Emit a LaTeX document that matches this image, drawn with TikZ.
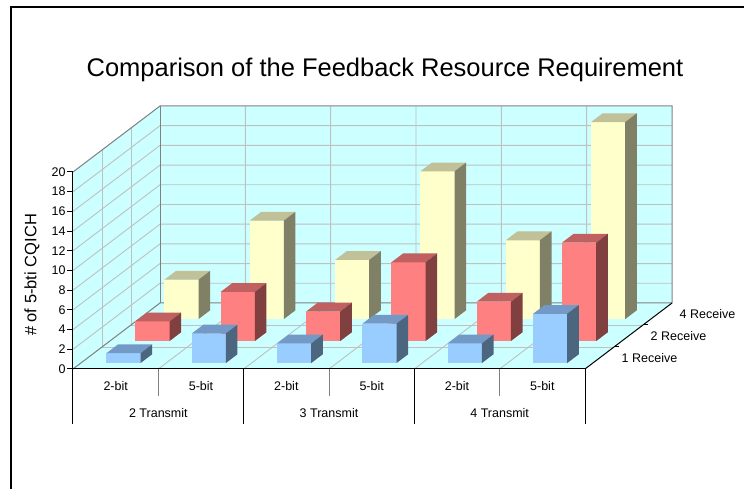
\documentclass[tikz,border=0pt]{standalone}
\usepackage{fontspec}
\setmainfont{Liberation Sans}
\usepackage{xcolor}
\usepackage{tikz}

\definecolor{wallcyan}{HTML}{CCFFFF}
\definecolor{gridgray}{HTML}{C0C0C0}
\definecolor{edgegray}{HTML}{808080}
\definecolor{bluefront}{HTML}{99CCFF}
\definecolor{bluetop}{HTML}{7399C6}
\definecolor{blueside}{HTML}{4D6680}
\definecolor{redfront}{HTML}{FF8080}
\definecolor{redtop}{HTML}{C06060}
\definecolor{redside}{HTML}{804040}
\definecolor{yellowfront}{HTML}{FFFFCC}
\definecolor{yellowtop}{HTML}{C0C099}
\definecolor{yellowside}{HTML}{808066}

% one column: category, row, value, colour
\newcommand{\cqbar}[4]{%
  \fill[#4front] (#1+0.3,0,#2+0.27) -- (#1+0.7,0,#2+0.27) -- (#1+0.7,#3,#2+0.27) -- (#1+0.3,#3,#2+0.27) -- cycle;
  \fill[#4top] (#1+0.3,#3,#2+0.27) -- (#1+0.7,#3,#2+0.27) -- (#1+0.7,#3,#2+0.67) -- (#1+0.3,#3,#2+0.67) -- cycle;
  \fill[#4side] (#1+0.7,0,#2+0.27) -- (#1+0.7,0,#2+0.67) -- (#1+0.7,#3,#2+0.67) -- (#1+0.7,#3,#2+0.27) -- cycle;
}

\begin{document}
\begin{tikzpicture}[x={(85.333pt,0pt)}, y={(0pt,9.85pt)}, z={(29pt,22pt)},
    lbl/.style={inner sep=0pt, font=\fontsize{12.5}{14}\selectfont}]
  \useasboundingbox (-73pt,-120pt) rectangle (671pt,369pt);
  \draw[line width=1.5pt] (-62pt,-120pt) -- (-62pt,362pt) -- (671pt,362pt);
  \node[anchor=base, font=\fontsize{25.5}{30}\selectfont] (title) at (312pt,292pt)
    {Comparison of the Feedback Resource Requirement};
  % walls and floor
  \fill[wallcyan] (0,0,3) -- (6,0,3) -- (6,20,3) -- (0,20,3) -- cycle;
  \fill[wallcyan] (0,0,0) -- (0,0,3) -- (0,20,3) -- (0,20,0) -- cycle;
  \fill[wallcyan] (0,0,0) -- (6,0,0) -- (6,0,3) -- (0,0,3) -- cycle;
  \foreach \v in {2,4,...,18} {
    \draw[gridgray, line width=0.9pt] (0,\v,0) -- (0,\v,3) -- (6,\v,3);
  }
  \foreach \c in {1,...,5} {
    \draw[gridgray, line width=0.9pt] (\c,0,0) -- (\c,0,3) -- (\c,20,3);
  }
  \foreach \r in {1,2} {
    \draw[gridgray, line width=0.9pt] (0,20,\r) -- (0,0,\r) -- (6,0,\r);
  }
  \draw[edgegray, line width=1pt] (0,0,0) -- (0,0,3) -- (6,0,3) -- (6,20,3) -- (0,20,3) -- (0,20,0);
  \draw[edgegray, line width=1pt] (0,0,3) -- (0,20,3);
  % columns, back row first
  \foreach \c/\v in {0/4,1/10,2/6,3/15,4/8,5/20} {
    \cqbar{\c}{2}{\v}{yellow}
  }
  \foreach \c/\v in {0/2,1/5,2/3,3/8,4/4,5/10} {
    \cqbar{\c}{1}{\v}{red}
  }
  \foreach \c/\v in {0/1,1/3,2/2,3/4,4/2,5/5} {
    \cqbar{\c}{0}{\v}{blue}
  }
  % value axis
  \draw[line width=1pt] (0,0,0) -- (0,20,0);
  \foreach \v in {0,2,...,20} {
    \draw[line width=1pt] (0,\v,0) -- ++(-6pt,0) node[lbl, anchor=east, xshift=-1pt] (val\v) {\v};
  }
  \node[rotate=90, font=\fontsize{16.5}{18}\selectfont] (ytitle) at (-41pt,94pt) {\# of 5-bti CQICH};
  % category axis
  \draw[line width=1pt] (0,0,0) -- (6,0,0);
  \foreach \c in {0,2,4,6} {
    \draw[line width=1pt] (\c,0,0) -- ++(0,-55pt);
  }
  \foreach \c in {1,3,5} {
    \draw[edgegray, line width=1pt] (\c,0,0) -- ++(0,-27pt);
  }
  \foreach \c/\t in {0/2-bit,1/5-bit,2/2-bit,3/5-bit,4/2-bit,5/5-bit} {
    \node[lbl, yshift=-17pt] (bit\c) at (\c+0.5,0,0) {\t};
  }
  \foreach \c/\t in {1/2 Transmit,3/3 Transmit,5/4 Transmit} {
    \node[lbl, yshift=-44pt] (tx\c) at (\c,0,0) {\t};
  }
  % depth axis
  \draw[line width=1pt] (6,0,0) -- (6,0,3);
  \foreach \r in {1,2} {
    \draw[line width=1pt] (6,0,\r) -- ++(5pt,0);
  }
  \foreach \r/\t in {0/1 Receive,1/2 Receive,2/4 Receive} {
    \node[lbl, anchor=west, xshift=22pt] (rx\r) at (6,0,\r+0.5) {\t};
  }
\end{tikzpicture}
\end{document}
